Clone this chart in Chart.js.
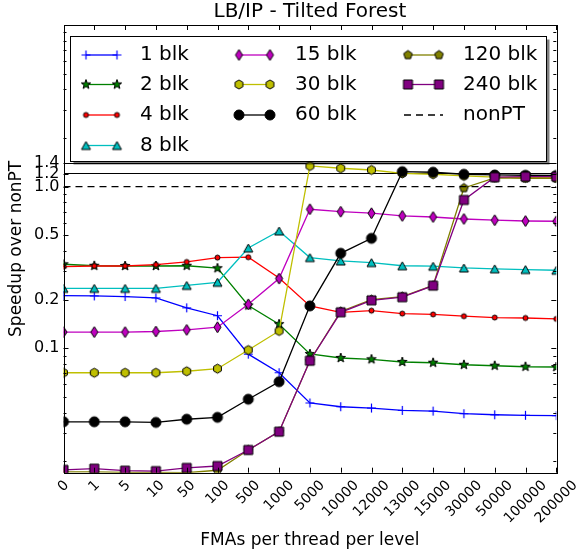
<!DOCTYPE html>
<html>
<head>
<meta charset="utf-8">
<script src="https://cdn.jsdelivr.net/npm/chart.js@4.4.0/dist/chart.umd.min.js"></script>
<style>
    html, body { margin: 0; padding: 0; background: #fff; }
    #wrap { width: 582px; height: 551px; }
</style>
</head>
<body>
<div id="wrap"><canvas id="myChart" width="582" height="551"></canvas></div>
<script>
// FMAs per thread per level (categories)
const fmas = ['0', '1', '5', '10', '50', '100', '500', '1000', '5000', '10000', '12000', '13000', '15000', '30000', '50000', '100000', '200000'];

// speedup over nonPT
const blk1 = [0.212, 0.211, 0.209, 0.205, 0.178, 0.159, 0.092, 0.0706, 0.0459, 0.0435, 0.0427, 0.0413, 0.0409, 0.0394, 0.0388, 0.0385, 0.0383];
const blk2 = [0.331, 0.324, 0.323, 0.323, 0.324, 0.313, 0.184, 0.141, 0.0922, 0.0871, 0.0855, 0.0823, 0.0814, 0.0791, 0.078, 0.0769, 0.0766];
const blk4 = [0.320, 0.323, 0.323, 0.329, 0.342, 0.364, 0.366, 0.272, 0.183, 0.167, 0.171, 0.164, 0.162, 0.158, 0.155, 0.154, 0.152];
const blk8 = [0.235, 0.235, 0.235, 0.235, 0.245, 0.256, 0.417, 0.532, 0.364, 0.347, 0.339, 0.324, 0.322, 0.314, 0.310, 0.307, 0.304];
const blk15 = [0.126, 0.126, 0.126, 0.127, 0.130, 0.135, 0.187, 0.270, 0.725, 0.700, 0.685, 0.659, 0.649, 0.631, 0.620, 0.613, 0.611];
const blk30 = [0.0706, 0.0706, 0.0706, 0.0706, 0.0721, 0.0748, 0.0976, 0.128, 1.343, 1.30, 1.268, 1.207, 1.193, 1.165, 1.144, 1.137, 1.132];
const blk60 = [0.0351, 0.0351, 0.0351, 0.0348, 0.0364, 0.0374, 0.0484, 0.0621, 0.183, 0.387, 0.479, 1.238, 1.228, 1.193, 1.181, 1.176, 1.173];
const blk120 = [0.0172, 0.0172, 0.0171, 0.0171, 0.0170, 0.0176, 0.0235, 0.0305, 0.0838, 0.169, 0.200, 0.209, 0.245, 0.981, 1.132, 1.127, 1.127];
const blk240 = [0.0177, 0.0180, 0.0175, 0.0174, 0.0182, 0.0187, 0.0235, 0.0305, 0.0838, 0.167, 0.198, 0.207, 0.244, 0.827, 1.144, 1.153, 1.153];
const nonPT = [1, 1, 1, 1, 1, 1, 1, 1, 1, 1, 1, 1, 1, 1, 1, 1, 1];

// y axis ticks
const yMajor = [0.1, 0.2, 0.5, 1.0, 1.2, 1.4];
const yMinor = [0.02, 0.03, 0.04, 0.05, 0.06, 0.07, 0.08, 0.09, 0.3, 0.4, 0.6, 0.7, 0.8, 0.9, 2, 3, 4, 5, 6, 7, 8, 9];

Chart.defaults.font.family = "'DejaVu Sans', sans-serif";
Chart.defaults.color = '#000';

// matplotlib-like markers as small canvases
function marker(shape, w, h, fill) {
    const pad = 2;
    const c = document.createElement('canvas');
    c.width = Math.ceil(w) + pad * 2;
    c.height = Math.ceil(h) + pad * 2;
    const g = c.getContext('2d');
    const cx = c.width / 2, cy = c.height / 2, rx = w / 2, ry = h / 2;
    g.beginPath();
    if (shape === 'plus') {
        g.moveTo(cx - rx, cy); g.lineTo(cx + rx, cy);
        g.moveTo(cx, cy - ry); g.lineTo(cx, cy + ry);
        g.strokeStyle = fill; g.lineWidth = 1.2; g.stroke();
        return c;
    }
    if (shape === 'circle') g.arc(cx, cy, rx, 0, Math.PI * 2);
    else if (shape === 'square') g.rect(cx - rx, cy - ry, w, h);
    else if (shape === 'triangle') { g.moveTo(cx, cy - ry); g.lineTo(cx + rx, cy + ry); g.lineTo(cx - rx, cy + ry); g.closePath(); }
    else if (shape === 'diamond') { g.moveTo(cx, cy - ry); g.lineTo(cx + rx, cy); g.lineTo(cx, cy + ry); g.lineTo(cx - rx, cy); g.closePath(); }
    else {
        const star = shape === 'star';
        const k = star ? 10 : (shape === 'hexagon' ? 6 : 5);
        for (let i = 0; i < k; i++) {
            const a = -Math.PI / 2 + i * Math.PI * 2 / k;
            const r = (star && i % 2) ? rx * 0.4 : rx;
            g.lineTo(cx + r * Math.cos(a), cy + r * Math.sin(a));
        }
        g.closePath();
    }
    g.fillStyle = fill; g.fill();
    g.strokeStyle = '#000'; g.lineWidth = 1; g.stroke();
    return c;
}

const series = [
    { label: '1 blk', data: blk1, color: '#0000ff', pt: marker('plus', 9, 9, '#0000ff') },
    { label: '2 blk', data: blk2, color: '#008000', pt: marker('star', 10, 10, '#008000') },
    { label: '4 blk', data: blk4, color: '#ff0000', pt: marker('circle', 5, 5, '#ff0000') },
    { label: '8 blk', data: blk8, color: '#00bfbf', pt: marker('triangle', 9, 8, '#00bfbf') },
    { label: '15 blk', data: blk15, color: '#bf00bf', pt: marker('diamond', 7, 11, '#bf00bf') },
    { label: '30 blk', data: blk30, color: '#bfbf00', pt: marker('hexagon', 9, 9, '#bfbf00') },
    { label: '60 blk', data: blk60, color: '#000000', pt: marker('circle', 10, 10, '#000000') },
    { label: '120 blk', data: blk120, color: '#808000', pt: marker('pentagon', 9, 9, '#808000') },
    { label: '240 blk', data: blk240, color: '#800080', pt: marker('square', 9, 9, '#800080') },
];

const datasets = series.map((s, i) => ({
    label: s.label,
    data: s.data,
    borderColor: s.color,
    backgroundColor: s.color,
    borderWidth: 1.3,
    pointStyle: s.pt,
    pointRadius: 5,
    tension: 0,
    clip: 0,
    order: 20 - i,
}));
datasets.push({
    label: 'nonPT',
    data: nonPT,
    borderColor: '#000',
    borderWidth: 1.3,
    borderDash: [7, 5],
    pointRadius: 0,
    clip: 0,
    order: 0,
});

// axes frame, inward ticks, centred rotated x labels, title and legend box like matplotlib
const frame = {
    id: 'frame',
    afterDraw(chart) {
        const ctx = chart.ctx;
        const a = chart.chartArea;
        const xs = chart.scales.x, ys = chart.scales.y;
        ctx.save();
        ctx.strokeStyle = '#000';
        ctx.lineWidth = 1;
        ctx.beginPath();
        yMajor.concat(yMinor).forEach(v => {
            const y = Math.round(ys.getPixelForValue(v)) + 0.5;
            const len = yMajor.includes(v) ? 5 : 3;
            ctx.moveTo(a.left, y); ctx.lineTo(a.left + len, y);
            ctx.moveTo(a.right, y); ctx.lineTo(a.right - len, y);
        });
        fmas.forEach((f, i) => {
            const x = Math.round(xs.getPixelForValue(i)) + 0.5;
            ctx.moveTo(x, a.bottom); ctx.lineTo(x, a.bottom - 5);
            ctx.moveTo(x, a.top); ctx.lineTo(x, a.top + 5);
        });
        ctx.stroke();
        ctx.strokeRect(Math.round(a.left) + 0.5, Math.round(a.top) + 0.5, Math.round(a.right - a.left), Math.round(a.bottom - a.top));

        // x tick labels, rotated 45 and centred under the tick
        const fs = 14;
        ctx.font = fs + "px 'DejaVu Sans'";
        ctx.fillStyle = '#000';
        ctx.textAlign = 'center';
        ctx.textBaseline = 'middle';
        fmas.forEach((f, i) => {
            const w = ctx.measureText(f).width;
            const half = (w + fs * 1.1) * Math.SQRT1_2 / 2;
            ctx.save();
            ctx.translate(xs.getPixelForValue(i), a.bottom + 5 + half);
            ctx.rotate(-Math.PI / 4);
            ctx.fillText(f, 0, 0);
            ctx.restore();
        });

        // legend
        const box = { left: 70.5, top: 36.5, right: 546.5, bottom: 161.5 };
        ctx.fillStyle = 'rgba(0,0,0,0.5)';
        ctx.fillRect(box.left + 3, box.top + 3, box.right - box.left, box.bottom - box.top);
        ctx.fillStyle = '#fff';
        ctx.fillRect(box.left, box.top, box.right - box.left, box.bottom - box.top);
        ctx.strokeRect(box.left, box.top, box.right - box.left, box.bottom - box.top);

        const cols = [{ x: 86, tx: 140 }, { x: 239, tx: 295 }, { x: 408, tx: 463 }];
        const rows = [55, 84.5, 115, 145.5];
        ctx.font = "20px 'DejaVu Sans'";
        ctx.textAlign = 'left';
        ctx.textBaseline = 'middle';
        chart.data.datasets.forEach((ds, i) => {
            const col = i < 4 ? 0 : (i < 7 ? 1 : 2);
            const row = i < 4 ? i : (i < 7 ? i - 4 : i - 7);
            const x1 = cols[col].x, x2 = x1 + 31, y = rows[row];
            ctx.save();
            ctx.strokeStyle = ds.borderColor;
            ctx.lineWidth = ds.borderWidth;
            ctx.setLineDash(ds.borderDash || []);
            ctx.beginPath();
            ctx.moveTo(x1 - (ds.borderDash ? 4 : 0), y); ctx.lineTo(x2 + (ds.borderDash ? 4 : 0), y);
            ctx.stroke();
            ctx.restore();
            if (ds.pointRadius > 0) {
                const p = ds.pointStyle;
                ctx.drawImage(p, x1 - p.width / 2, y - p.height / 2);
                ctx.drawImage(p, x2 - p.width / 2, y - p.height / 2);
            }
            ctx.fillStyle = '#000';
            ctx.fillText(ds.label, cols[col].tx, y);
        });

        // title
        ctx.font = "20px 'DejaVu Sans'";
        ctx.textAlign = 'center';
        ctx.fillText('LB/IP - Tilted Forest', (a.left + a.right) / 2, 12);
        ctx.restore();
    }
};

new Chart(document.getElementById('myChart'), {
    type: 'line',
    data: { labels: fmas, datasets: datasets },
    options: {
        responsive: false,
        animation: false,
        events: [],
        layout: { padding: { left: 4, right: 25.7, top: 25, bottom: 0 } },
        plugins: {
            legend: { display: false },
            title: { display: false },
            tooltip: { enabled: false },
        },
        scales: {
            x: {
                type: 'category',
                offset: false,
                grid: { display: false, drawTicks: false },
                border: { display: false },
                ticks: { display: false, autoSkip: false },
                title: { display: true, text: 'FMAs per thread per level', font: { size: 17 }, padding: { top: 0, bottom: 0 } },
                afterFit: s => { s.height = 78.3; },
            },
            y: {
                type: 'logarithmic',
                min: 0.017,
                max: 10,
                bounds: 'data',
                afterBuildTicks: s => {
                    s.ticks = yMajor.concat(yMinor).sort((p, q) => p - q).map(v => ({ value: v }));
                },
                grid: {
                    drawTicks: false,
                    color: c => (c.tick && (c.tick.value === 1.2 || c.tick.value === 1.4)) ? '#000' : 'rgba(0,0,0,0)',
                    lineWidth: 1,
                },
                border: { display: false },
                ticks: {
                    autoSkip: false,
                    font: { size: 16 },
                    padding: 4,
                    callback: v => yMajor.includes(v) ? v.toFixed(1) : '',
                },
                title: { display: true, text: 'Speedup over nonPT', font: { size: 17 }, padding: { top: 2, bottom: 0 } },
                afterFit: s => { s.width = 59.5; },
            },
        },
    },
    plugins: [frame],
});
</script>
</body>
</html>
